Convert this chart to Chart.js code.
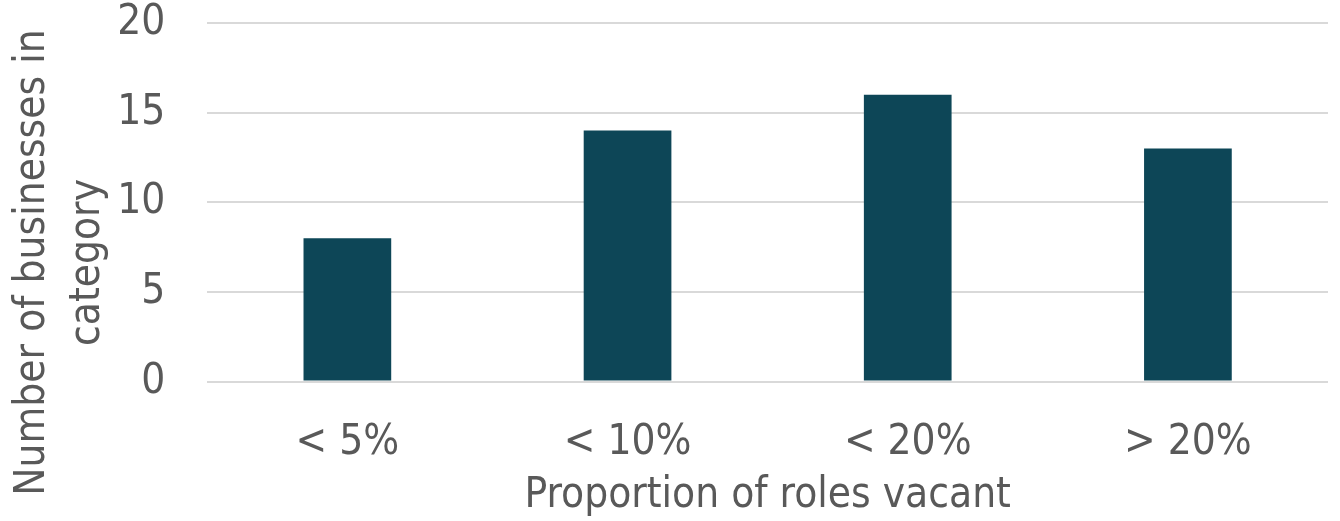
<!DOCTYPE html>
<html>
<head>
<meta charset="utf-8">
<script src="https://cdn.jsdelivr.net/npm/chart.js@4"></script>
<style>
  html, body { margin: 0; padding: 0; background: #fff; }
  #wrap { width: 1340px; height: 521px; }
</style>
</head>
<body>
<div id="wrap"><canvas id="barras"></canvas></div>
<script>
const categories = ["< 5%", "< 10%", "< 20%", "> 20%"];
const businesses = [8, 14, 16, 13];
const yTicks = [0, 5, 10, 15, 20];
const yTitle = ["Number of businesses in", "category"];

const barras = document.getElementById("barras");
const fuente = "'DejaVu Sans Condensed', 'DejaVu Sans', sans-serif";
const gris = "#595959";

// El título del eje Y va centrado en todo el lienzo (no en el área del gráfico)
const tituloY = {
  id: "tituloY",
  afterDraw(chart) {
    const ctx = chart.ctx;
    const escala = chart.scales.y;
    const alto = 42 * 1.3;
    ctx.save();
    ctx.fillStyle = gris;
    ctx.font = "42px " + fuente;
    ctx.textAlign = "center";
    ctx.textBaseline = "middle";
    yTitle.forEach((linea, i) => {
      ctx.save();
      ctx.translate(escala.left + alto / 2 + i * alto, chart.height / 2 + 2);
      ctx.rotate(-Math.PI / 2);
      ctx.fillText(linea, 0, 0);
      ctx.restore();
    });
    ctx.restore();
  },
};

new Chart(barras, {
  type: "bar",
  data: {
    labels: categories,
    datasets: [
      {
        label: "Businesses",
        data: businesses,
        backgroundColor: "#0d4657",
        barPercentage: 0.313,
        categoryPercentage: 1,
      },
    ],
  },
  options: {
    responsive: true,
    maintainAspectRatio: false,
    animation: false,
    layout: {
      padding: { top: 2, right: 12, bottom: 0, left: 6 },
    },
    plugins: {
      legend: { display: false },
      tooltip: { enabled: false },
    },
    scales: {
      x: {
        // el espacio bajo el eje va en tickLength (ticks.padding cuenta doble)
        grid: {
          drawOnChartArea: false,
          tickLength: 38,
          tickColor: "rgba(0,0,0,0)",
        },
        border: { display: false },
        ticks: {
          color: gris,
          font: { size: 42, family: fuente, lineHeight: 1 },
          padding: 2,
        },
        title: {
          display: true,
          text: "Proportion of roles vacant",
          color: gris,
          font: { size: 42, family: fuente },
          padding: { top: 5, bottom: 0 },
        },
      },
      y: {
        min: 0,
        max: 20,
        afterBuildTicks: (axis) => {
          axis.ticks = yTicks.map((v) => ({ value: v }));
        },
        grid: {
          color: "#d9d9d9",
          lineWidth: 2,
          tickLength: 40,
          tickColor: "rgba(0,0,0,0)",
        },
        border: { display: false },
        ticks: {
          color: gris,
          font: { size: 42, family: fuente, lineHeight: 1 },
          padding: 2,
        },
        // reserva el hueco; el texto lo pinta el plugin tituloY
        title: {
          display: true,
          text: yTitle,
          color: "rgba(0,0,0,0)",
          font: { size: 42, family: fuente, lineHeight: 1.3 },
          padding: { top: 0, bottom: 0 },
        },
      },
    },
  },
  plugins: [tituloY],
});
</script>
</body>
</html>
